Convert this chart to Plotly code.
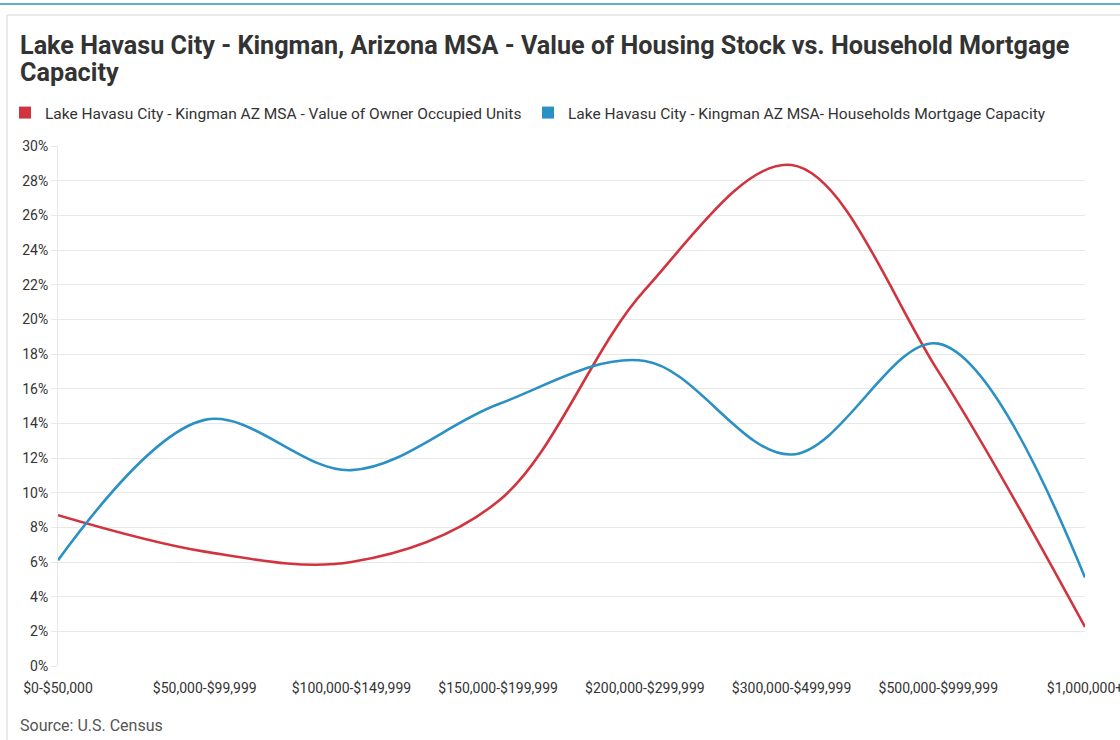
import plotly.graph_objects as go

categories = ["$0-$50,000", "$50,000-$99,999", "$100,000-$149,999", "$150,000-$199,999",
              "$200,000-$299,999", "$300,000-$499,999", "$500,000-$999,999", "$1,000,000+"]
owner_units = [8.7, 6.6, 6.0, 9.5, 21.7, 28.9, 17.0, 2.25]
mortgage_capacity = [6.1, 14.2, 11.3, 15.1, 17.6, 12.2, 18.6, 5.1]
y_ticks = list(range(0, 31, 2))
y_labels = [f"{v}%" for v in y_ticks]

name_red = "Lake Havasu City - Kingman AZ MSA - Value of Owner Occupied Units"
name_blue = "Lake Havasu City - Kingman AZ MSA- Households Mortgage Capacity"
title_1 = "Lake Havasu City - Kingman, Arizona MSA - Value of Housing Stock vs. Household Mortgage"
title_2 = "Capacity"
source = "Source: U.S. Census"
RED = "#d1343f"
BLUE = "#2b90c3"
FONT = "Roboto, Arial, sans-serif"

W, H = 1120, 740
L, R, T, B = 58, 35, 146, 74
pw, ph = W - L - R, H - T - B

def px(x):
    return (x - L) / pw

def py(y):
    return (H - B - y) / ph

xi = list(range(len(categories)))

fig = go.Figure()
fig.add_trace(go.Scatter(x=xi, y=owner_units, mode="lines", line=dict(color=RED, width=2.6, shape="spline", smoothing=1.0),
                         showlegend=False, hoverinfo="y"))
fig.add_trace(go.Scatter(x=xi, y=mortgage_capacity, mode="lines", line=dict(color=BLUE, width=2.6, shape="spline", smoothing=1.0),
                         showlegend=False, hoverinfo="y"))
# legend entries
fig.add_trace(go.Scatter(x=[None], y=[None], mode="markers", name=name_red,
                         marker=dict(symbol="square", size=12, color=RED)))
fig.add_trace(go.Scatter(x=[None], y=[None], mode="markers", name=name_blue,
                         marker=dict(symbol="square", size=12, color=BLUE)))

fig.update_layout(
    width=W, height=H,
    margin=dict(l=L, r=R, t=T, b=B, autoexpand=False),
    paper_bgcolor="white", plot_bgcolor="white",
    font=dict(family=FONT, color="#333333", size=14),
    showlegend=True,
    legend=dict(orientation="h", x=px(5), y=py(113), xanchor="left", yanchor="middle",
                font=dict(size=15.5, color="#333333"), itemwidth=30, tracegroupgap=0,
                entrywidth=478, entrywidthmode="pixels",
                bgcolor="rgba(0,0,0,0)"),
    xaxis=dict(
        range=[0, 7], tickmode="array", tickvals=xi, ticktext=categories,
        showgrid=False, zeroline=False, showline=False, ticks="",
        ticklabelstandoff=12, automargin=False, ticklabeloverflow="allow",
        tickfont=dict(size=14, color="#333333"), fixedrange=True,
    ),
    yaxis=dict(
        range=[0, 30], tickmode="array", tickvals=y_ticks, ticktext=y_labels,
        showgrid=True, gridcolor="#e8e8e8", gridwidth=1, zeroline=False,
        showline=True, linecolor="#e8e8e8", linewidth=1, automargin=False,
        ticks="outside", ticklen=6, tickcolor="#e8e8e8",
        tickfont=dict(size=14, color="#333333"), fixedrange=True,
    ),
    annotations=[
        dict(text=f"<b>{title_1}</b>", xref="paper", yref="paper", x=px(18), y=py(45),
             xanchor="left", yanchor="middle", align="left", showarrow=False,
             font=dict(size=25.2, color="#333333", family=FONT)),
        dict(text=f"<b>{title_2}</b>", xref="paper", yref="paper", x=px(18), y=py(72),
             xanchor="left", yanchor="middle", align="left", showarrow=False,
             font=dict(size=25.2, color="#333333", family=FONT)),
        dict(text=source, xref="paper", yref="paper", x=px(18), y=py(725),
             xanchor="left", yanchor="middle", showarrow=False, font=dict(size=16, color="#555555")),
    ],
    shapes=[
        dict(type="line", xref="paper", yref="paper", x0=px(0), x1=px(W), y0=py(4), y1=py(4),
             line=dict(color="#2b90c3", width=1.5)),
        dict(type="line", xref="paper", yref="paper", x0=px(7), x1=px(W), y0=py(15), y1=py(15),
             line=dict(color="#e3e3e3", width=1.5)),
        dict(type="line", xref="paper", yref="paper", x0=px(7), x1=px(7), y0=py(15), y1=py(H),
             line=dict(color="#e3e3e3", width=1.5)),
    ],
)

fig.write_html("out.html", config={"displayModeBar": False},
               post_script="document.body.style.margin='0';document.body.style.overflow='hidden';")
